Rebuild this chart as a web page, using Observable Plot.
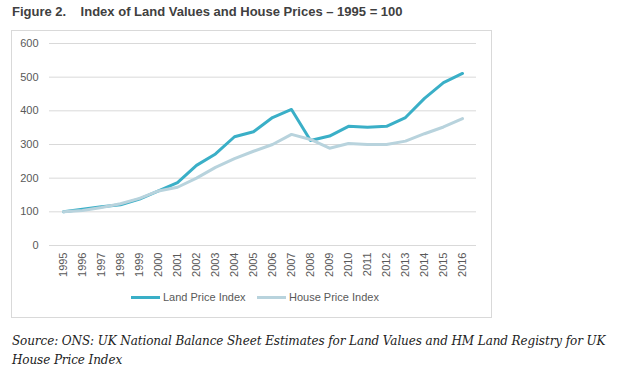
<!DOCTYPE html>
<html><head><meta charset="utf-8">
<script src="https://cdn.jsdelivr.net/npm/d3@7"></script>
<script src="https://cdn.jsdelivr.net/npm/@observablehq/plot@0.6"></script>
<style>
body{margin:0;background:#fff;width:632px;height:383px;position:relative;overflow:hidden}
#title{position:absolute;left:12px;top:4px;font:bold 13px "Liberation Sans",Arial,sans-serif;color:#404040;white-space:pre}
#box{position:absolute;left:11px;top:30px;width:479px;height:286px;border:1px solid #d9d9d9}
#chart{position:absolute;left:-1px;top:-1px}
#legend{position:absolute;top:260px;left:0;width:480px;font:11px "Liberation Sans",Arial,sans-serif;color:#595959}
.item{position:absolute;display:flex;align-items:center;top:0}
.sw{display:inline-block;width:29px;height:3px;margin-right:3px}
#caption{position:absolute;left:12px;top:332px;width:620px;font:italic 12px "DejaVu Serif","Liberation Serif",serif;letter-spacing:-0.1px;color:#222;line-height:19px}
</style></head>
<body>
<div id="title">Figure 2.    Index of Land Values and House Prices – 1995 = 100</div>
<div id="box"><div id="chart"></div><div id="legend"></div></div>
<div id="caption">Source: ONS: UK National Balance Sheet Estimates for Land Values and HM Land Registry for UK House Price Index</div>
<script>
const years = ["1995","1996","1997","1998","1999","2000","2001","2002","2003","2004","2005","2006","2007","2008","2009","2010","2011","2012","2013","2014","2015","2016"];
const landPriceIndex = [100,108,115,121,138,162,187,238,272,323,338,380,404,312,325,354,351,354,380,437,484,511];
const housePriceIndex = [100,104,113,124,140,162,173,200,232,258,280,300,330,315,289,303,300,300,310,332,352,377];
const seriesNames = ["Land Price Index","House Price Index"];
const seriesColors = ["#3AAFC7","#B8D3DD"];
const yTicks = [0,100,200,300,400,500,600];

const data = [];
years.forEach((y,i)=>{
  data.push({year:y, value:landPriceIndex[i], series:seriesNames[0]});
  data.push({year:y, value:housePriceIndex[i], series:seriesNames[1]});
});

const plot = Plot.plot({
  width: 480, height: 256,
  marginLeft: 38, marginRight: 15, marginTop: 13, marginBottom: 41,
  style: {fontFamily: '"Liberation Sans",Arial,sans-serif', fontSize: "11px", color: "#595959", background: "transparent"},
  x: {type: "point", domain: years, padding: 0.5, label: null},
  y: {domain: [0,600], label: null},
  color: {domain: seriesNames, range: seriesColors},
  marks: [
    Plot.ruleY(yTicks, {stroke: "#d9d9d9", strokeWidth: 1}),
    Plot.axisY({ticks: yTicks, tickSize: 0, tickPadding: 11, label: null, fill: "#595959"}),
    Plot.axisX({tickSize: 0, tickRotate: -90, tickPadding: 7, label: null, fill: "#595959"}),
    Plot.line(data, {x: "year", y: "value", z: "series", stroke: "series", strokeWidth: 3, strokeLinejoin: "round", strokeLinecap: "round"})
  ]
});
document.getElementById("chart").appendChild(plot);

const legend = document.getElementById("legend");
const lefts = [119, 245];
seriesNames.forEach((n,i)=>{
  const d = document.createElement("div");
  d.className = "item";
  d.style.left = lefts[i] + "px";
  d.innerHTML = `<span class="sw" style="background:${seriesColors[i]}"></span><span>${n}</span>`;
  legend.appendChild(d);
});
</script>
</body></html>
